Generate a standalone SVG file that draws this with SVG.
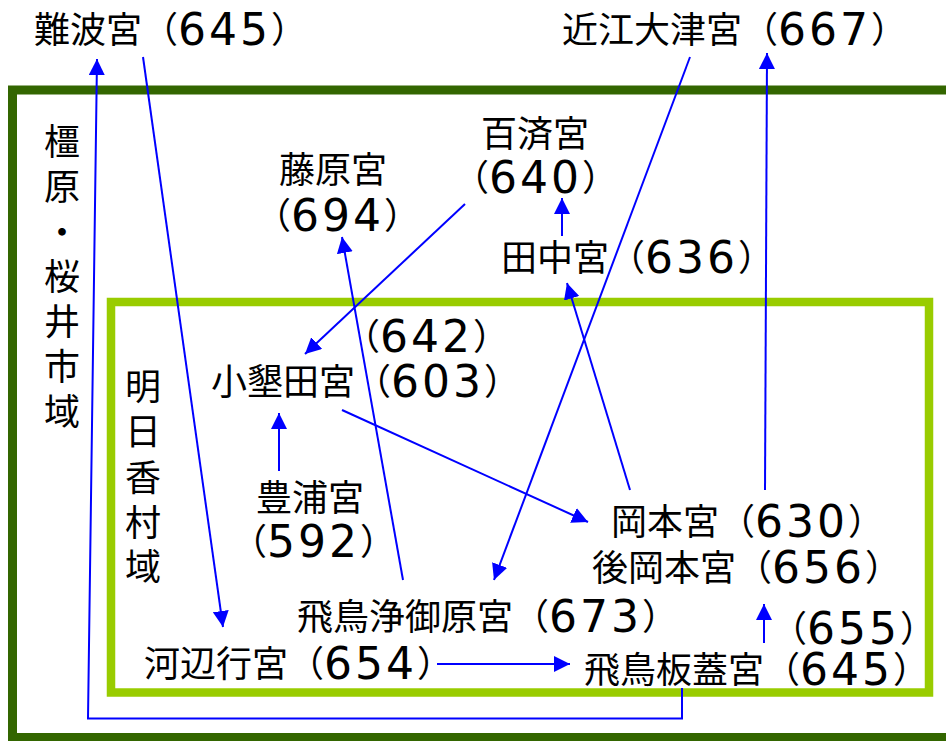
<svg xmlns="http://www.w3.org/2000/svg" width="946" height="741" viewBox="0 0 946 741">
<style>
  text { font-family: "Noto Sans CJK JP", "Noto Sans CJK SC", sans-serif; font-size: 36px; fill: #000; }
  .d { font-family: "DejaVu Sans", sans-serif; font-size: 44px; letter-spacing: 3px; }
  .c { fill: none; stroke: #0000ff; stroke-width: 2; }
</style>
<defs>
  <marker id="ah" markerUnits="userSpaceOnUse" markerWidth="16" markerHeight="16" refX="16" refY="8" orient="auto" viewBox="0 0 16 16">
    <path d="M0,0 L16,8 L0,16 z" fill="#0000ff"/>
  </marker>
</defs>
<rect width="946" height="741" fill="#fff"/>
<g id="region-kashihara">
  <rect x="12.5" y="90" width="945" height="647.5" fill="#fff" stroke="#336600" stroke-width="9"/>
  <text text-anchor="middle"><tspan x="62" y="155">橿</tspan><tspan x="62" y="200">原</tspan><tspan x="62" y="246">・</tspan><tspan x="62" y="290">桜</tspan><tspan x="62" y="335">井</tspan><tspan x="62" y="380">市</tspan><tspan x="62" y="425">域</tspan></text>
</g>
<g id="region-asuka">
  <rect x="111" y="302" width="818" height="390.5" fill="#fff" stroke="#99cc00" stroke-width="8.5"/>
  <text text-anchor="middle"><tspan x="143" y="400">明</tspan><tspan x="143" y="445">日</tspan><tspan x="143" y="491">香</tspan><tspan x="143" y="536">村</tspan><tspan x="143" y="580">域</tspan></text>
</g>
<g id="connectors">
  <line class="c" x1="143" y1="57" x2="223" y2="627" marker-end="url(#ah)"/>
  <polyline class="c" points="682,688 682,718.5 88,718.5 97,59" marker-end="url(#ah)"/>
  <line class="c" x1="765" y1="490" x2="767" y2="53" marker-end="url(#ah)"/>
  <line class="c" x1="690" y1="57" x2="494" y2="580" marker-end="url(#ah)"/>
  <line class="c" x1="465" y1="204" x2="305" y2="354" marker-end="url(#ah)"/>
  <line class="c" x1="562" y1="236" x2="562" y2="198" marker-end="url(#ah)"/>
  <line class="c" x1="630" y1="490" x2="567" y2="283" marker-end="url(#ah)"/>
  <line class="c" x1="403" y1="580" x2="342" y2="237" marker-end="url(#ah)"/>
  <line class="c" x1="279" y1="471" x2="279" y2="413" marker-end="url(#ah)"/>
  <line class="c" x1="342" y1="410" x2="588" y2="522" marker-end="url(#ah)"/>
  <line class="c" x1="764" y1="643" x2="764" y2="604" marker-end="url(#ah)"/>
  <line class="c" x1="437" y1="664" x2="570" y2="664" marker-end="url(#ah)"/>
</g>
<g id="naniwa"><text x="34" y="43">難波宮（<tspan class="d" dy="2">645</tspan><tspan dy="-2">）</tspan></text></g>
<g id="omi"><text x="562" y="43">近江大津宮（<tspan class="d" dy="2">667</tspan><tspan dy="-2">）</tspan></text></g>
<g id="kudara"><text x="481" y="147">百済宮</text><text x="453" y="191">（<tspan class="d" dy="2">640</tspan><tspan dy="-2">）</tspan></text></g>
<g id="fujiwara"><text x="279" y="183">藤原宮</text><text x="255" y="229">（<tspan class="d" dy="2">694</tspan><tspan dy="-2">）</tspan></text></g>
<g id="tanaka"><text x="501" y="271">田中宮（<tspan class="d" dy="2">636</tspan><tspan dy="-2">）</tspan></text></g>
<g id="oharida"><text x="344" y="350">（<tspan class="d" dy="2">642</tspan><tspan dy="-2">）</tspan></text><text x="211" y="395">小墾田宮（<tspan class="d" dy="2">603</tspan><tspan dy="-2">）</tspan></text></g>
<g id="toyura"><text x="256" y="511">豊浦宮</text><text x="231" y="555">（<tspan class="d" dy="2">592</tspan><tspan dy="-2">）</tspan></text></g>
<g id="okamoto"><text x="611" y="535">岡本宮（<tspan class="d" dy="2">630</tspan><tspan dy="-2">）</tspan></text><text x="592" y="581">後岡本宮（<tspan class="d" dy="2">656</tspan><tspan dy="-2">）</tspan></text></g>
<g id="kiyomihara"><text x="297" y="630">飛鳥浄御原宮（<tspan class="d" dy="2">673</tspan><tspan dy="-2">）</tspan></text></g>
<g id="itabuki"><text x="771" y="642">（<tspan class="d" dy="2">655</tspan><tspan dy="-2">）</tspan></text><text x="584" y="683">飛鳥板蓋宮（<tspan class="d" dy="2">645</tspan><tspan dy="-2">）</tspan></text></g>
<g id="kawabe"><text x="144" y="677">河辺行宮（<tspan class="d" dy="2">654</tspan><tspan dy="-2">）</tspan></text></g>
</svg>
